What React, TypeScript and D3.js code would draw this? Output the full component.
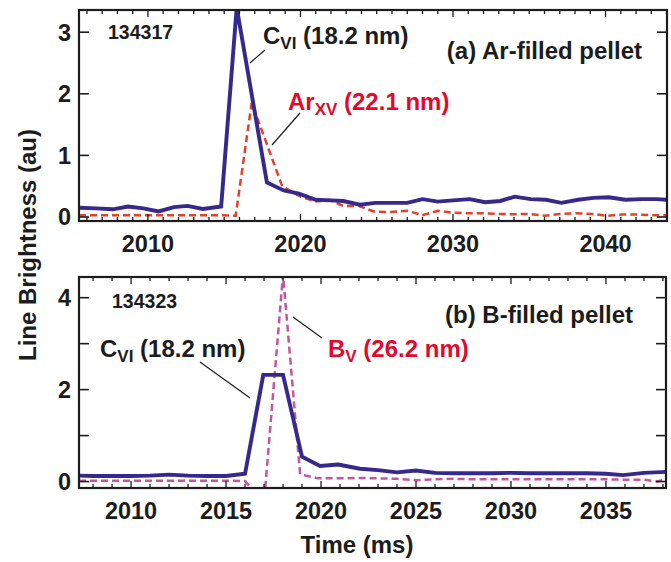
import React from "react";
import * as d3 from "d3";

// ---------- Data ----------
// Panel (a) shot 134317, Ar-filled pellet
const cviATime = [2005.48, 2006.6, 2007.7, 2008.7, 2009.7, 2010.7, 2011.7, 2012.6, 2013.6, 2014.8, 2015.82, 2017.8, 2018.9, 2019.9, 2021.0, 2022.0, 2022.8, 2023.9, 2024.9, 2026.0, 2027.0, 2028.0, 2029.0, 2030.0, 2031.1, 2032.1, 2033.1, 2034.05, 2035.1, 2036.1, 2037.1, 2038.2, 2039.2, 2040.2, 2041.3, 2042.4, 2043.3, 2044.03];
const cviAValue = [0.15, 0.14, 0.125, 0.17, 0.14, 0.09, 0.16, 0.18, 0.13, 0.17, 3.4, 0.56, 0.43, 0.38, 0.28, 0.27, 0.26, 0.2, 0.23, 0.23, 0.23, 0.29, 0.25, 0.27, 0.29, 0.24, 0.26, 0.33, 0.29, 0.28, 0.23, 0.28, 0.31, 0.32, 0.28, 0.29, 0.29, 0.28];
const arTime = [2005.48, 2006.7, 2007.7, 2008.7, 2009.7, 2010.7, 2011.7, 2012.7, 2013.7, 2014.7, 2015.75, 2016.8, 2017.8, 2018.8, 2020.0, 2021.0, 2021.9, 2022.8, 2023.8, 2024.8, 2025.9, 2027.0, 2028.0, 2029.0, 2030.0, 2031.0, 2032.0, 2033.0, 2034.0, 2035.0, 2036.0, 2037.0, 2038.1, 2039.1, 2040.1, 2041.1, 2042.1, 2043.1, 2044.03];
const arValue = [0.03, 0.03, 0.03, 0.03, 0.03, 0.03, 0.03, 0.03, 0.03, 0.03, 0.02, 1.85, 1.18, 0.5, 0.33, 0.25, 0.28, 0.18, 0.18, 0.09, 0.08, 0.1, 0.03, 0.1, 0.07, 0.06, 0.06, 0.05, 0.045, 0.05, 0.02, 0.05, 0.06, 0.05, 0.02, 0.04, 0.04, 0.03, 0.03];

// Panel (b) shot 134323, B-filled pellet
const cviBTime = [2007.26, 2008, 2009, 2010, 2011, 2012, 2013, 2014, 2015, 2016, 2016.96, 2018.0, 2019.0, 2019.95, 2020.9, 2022.05, 2023.0, 2024.0, 2025.0, 2026.0, 2027, 2028, 2029, 2030, 2031, 2032, 2033, 2034, 2035, 2035.9, 2037.0, 2038.16];
const cviBValue = [0.13, 0.12, 0.12, 0.12, 0.13, 0.15, 0.13, 0.12, 0.12, 0.17, 2.32, 2.32, 0.54, 0.34, 0.37, 0.28, 0.25, 0.2, 0.24, 0.19, 0.18, 0.18, 0.18, 0.19, 0.18, 0.18, 0.18, 0.18, 0.17, 0.14, 0.19, 0.21];
const bvTime = [2007.26, 2008, 2009, 2010, 2011, 2012, 2013, 2014, 2015, 2016, 2017, 2018, 2018.9, 2019.85, 2021, 2022, 2023, 2024, 2025, 2026, 2027, 2028, 2029, 2030, 2031, 2032, 2033, 2034, 2035, 2036, 2037, 2037.7, 2038.16];
const bvValue = [0.02, 0.02, 0.02, 0.02, 0.02, 0.02, 0.02, 0.02, 0.02, 0.01, -0.45, 4.5, 0.16, 0.07, 0.07, 0.08, 0.07, 0.06, 0.03, 0.05, 0.06, 0.05, 0.05, 0.05, 0.05, 0.05, 0.05, 0.05, 0.05, 0.04, 0.04, 0.0, 0.05];

// Tick values / labels
const xTicksA = [2010, 2020, 2030, 2040];
const yTicksA = [0, 1, 2, 3];
const yLabelsA = [0, 1, 2, 3];
const xTicksB = [2010, 2015, 2020, 2025, 2030, 2035];
const yTicksB = [0, 1, 2, 3, 4];
const yLabelsB = [0, 2, 4];

const FONT = "'Liberation Sans', Arial, Helvetica, sans-serif";
const NAVY = "#35298c";
const RED_DASH = "#e4412b";
const MAGENTA = "#c4559e";
const RED_TEXT = "#e10a2e";
const INK = "#1c1c1c";

type PanelProps = {
  id: string;
  xDomain: [number, number];
  yDomain: [number, number];
  left: number; right: number; top: number; bottom: number;
  xTicks: number[]; xMajorStep: number;
  yTicks: number[]; yLabels: number[];
  solid: { t: number[]; v: number[] };
  dashed: { t: number[]; v: number[]; color: string };
};

function Panel(p: PanelProps) {
  const x = d3.scaleLinear().domain(p.xDomain).range([p.left, p.right]);
  const y = d3.scaleLinear().domain(p.yDomain).range([p.bottom, p.top]);
  const line = d3.line<[number, number]>().x((d) => x(d[0])).y((d) => y(d[1]));
  const solidPts = p.solid.t.map((t, i) => [t, p.solid.v[i]] as [number, number]);
  const dashPts = p.dashed.t.map((t, i) => [t, p.dashed.v[i]] as [number, number]);
  const minor = d3.range(Math.ceil(p.xDomain[0]), Math.floor(p.xDomain[1]) + 1);
  return (
    <g>
      <defs>
        <clipPath id={p.id}>
          <rect x={p.left} y={p.top} width={p.right - p.left} height={p.bottom - p.top} />
        </clipPath>
      </defs>
      <g clipPath={`url(#${p.id})`}>
        <path d={line(dashPts) || ""} fill="none" stroke={p.dashed.color} strokeWidth={2.5} strokeDasharray="7,4" />
        <path d={line(solidPts) || ""} fill="none" stroke={NAVY} strokeWidth={3.9} strokeLinejoin="miter" />
      </g>
      {minor.map((t) => {
        const major = t % p.xMajorStep === 0;
        return (
          <g key={`mx${t}`}>
            <line x1={x(t)} x2={x(t)} y1={p.bottom} y2={p.bottom - (major ? 7 : 4)} stroke={INK} strokeWidth={1.3} />
            <line x1={x(t)} x2={x(t)} y1={p.top} y2={p.top + (major ? 7 : 4)} stroke={INK} strokeWidth={1.3} />
          </g>
        );
      })}
      {p.yTicks.map((v) => (
        <g key={`yt${v}`}>
          <line x1={p.left} x2={p.left + 10} y1={y(v)} y2={y(v)} stroke={INK} strokeWidth={1.6} />
          <line x1={p.right} x2={p.right - 10} y1={y(v)} y2={y(v)} stroke={INK} strokeWidth={1.6} />
        </g>
      ))}
      <rect x={p.left} y={p.top} width={p.right - p.left} height={p.bottom - p.top} fill="none" stroke={INK} strokeWidth={2.2} />
      {p.xTicks.map((t) => (
        <text key={`xl${t}`} x={x(t)} y={p.bottom + 31} textAnchor="middle" fontFamily={FONT} fontWeight="bold" fontSize={23.5} fill={INK}>
          {t}
        </text>
      ))}
      {p.yLabels.map((v) => (
        <text key={`yl${v}`} x={71} y={y(v)} dy="0.36em" textAnchor="end" fontFamily={FONT} fontWeight="bold" fontSize={23.5} fill={INK}>
          {v}
        </text>
      ))}
    </g>
  );
}

function Sub({ x, y, main, sub, rest, color }: { x: number; y: number; main: string; sub: string; rest: string; color: string }) {
  return (
    <text x={x} y={y} fontFamily={FONT} fontWeight="bold" fontSize={24} fill={color}>
      {main}
      <tspan fontSize={17} dy={5}>{sub}</tspan>
      <tspan dy={-5}>{rest}</tspan>
    </text>
  );
}

export default function App() {
  return (
    <svg width={671} height={562} style={{ position: "absolute", left: 0, top: 0, background: "#fff" }}>
      <rect width={671} height={562} fill="#fff" />
      <Panel
        id="clipA"
        xDomain={[2005.48, 2044.03]}
        yDomain={[-0.065, 3.36]}
        left={79} right={667} top={10} bottom={221}
        xTicks={xTicksA} xMajorStep={10}
        yTicks={yTicksA} yLabels={yLabelsA}
        solid={{ t: cviATime, v: cviAValue }}
        dashed={{ t: arTime, v: arValue, color: RED_DASH }}
      />
      <Panel
        id="clipB"
        xDomain={[2007.26, 2038.16]}
        yDomain={[-0.14, 4.45]}
        left={79} right={666} top={277} bottom={488}
        xTicks={xTicksB} xMajorStep={5}
        yTicks={yTicksB} yLabels={yLabelsB}
        solid={{ t: cviBTime, v: cviBValue }}
        dashed={{ t: bvTime, v: bvValue, color: MAGENTA }}
      />

      {/* Panel (a) annotations */}
      <text x={108} y={39} fontFamily={FONT} fontWeight="bold" fontSize={19.5} fill={INK}>134317</text>
      <Sub x={263} y={44} main="C" sub="VI" rest=" (18.2 nm)" color={INK} />
      <line x1={250} y1={63} x2={265} y2={50} stroke={INK} strokeWidth={1.2} />
      <Sub x={288} y={110} main="Ar" sub="XV" rest=" (22.1 nm)" color={RED_TEXT} />
      <line x1={272} y1={145} x2={300} y2={113} stroke={INK} strokeWidth={1.2} />
      <text x={642} y={59} textAnchor="end" fontFamily={FONT} fontWeight="bold" fontSize={24} fill={INK}>(a) Ar-filled pellet</text>

      {/* Panel (b) annotations */}
      <text x={112} y={308} fontFamily={FONT} fontWeight="bold" fontSize={19.5} fill={INK}>134323</text>
      <Sub x={100} y={357} main="C" sub="VI" rest=" (18.2 nm)" color={INK} />
      <line x1={200} y1={362} x2={250} y2={398} stroke={INK} strokeWidth={1.2} />
      <Sub x={328} y={357} main="B" sub="V" rest=" (26.2 nm)" color={RED_TEXT} />
      <line x1={293} y1={317} x2={322} y2={338} stroke={INK} strokeWidth={1.2} />
      <text x={633} y={323} textAnchor="end" fontFamily={FONT} fontWeight="bold" fontSize={24} fill={INK}>(b) B-filled pellet</text>

      {/* Axis titles */}
      <text x={357} y={553} textAnchor="middle" fontFamily={FONT} fontWeight="bold" fontSize={24} fill={INK}>Time (ms)</text>
      <text transform="translate(36,245) rotate(-90)" textAnchor="middle" fontFamily={FONT} fontWeight="bold" fontSize={24} fill={INK}>Line Brightness (au)</text>
    </svg>
  );
}
